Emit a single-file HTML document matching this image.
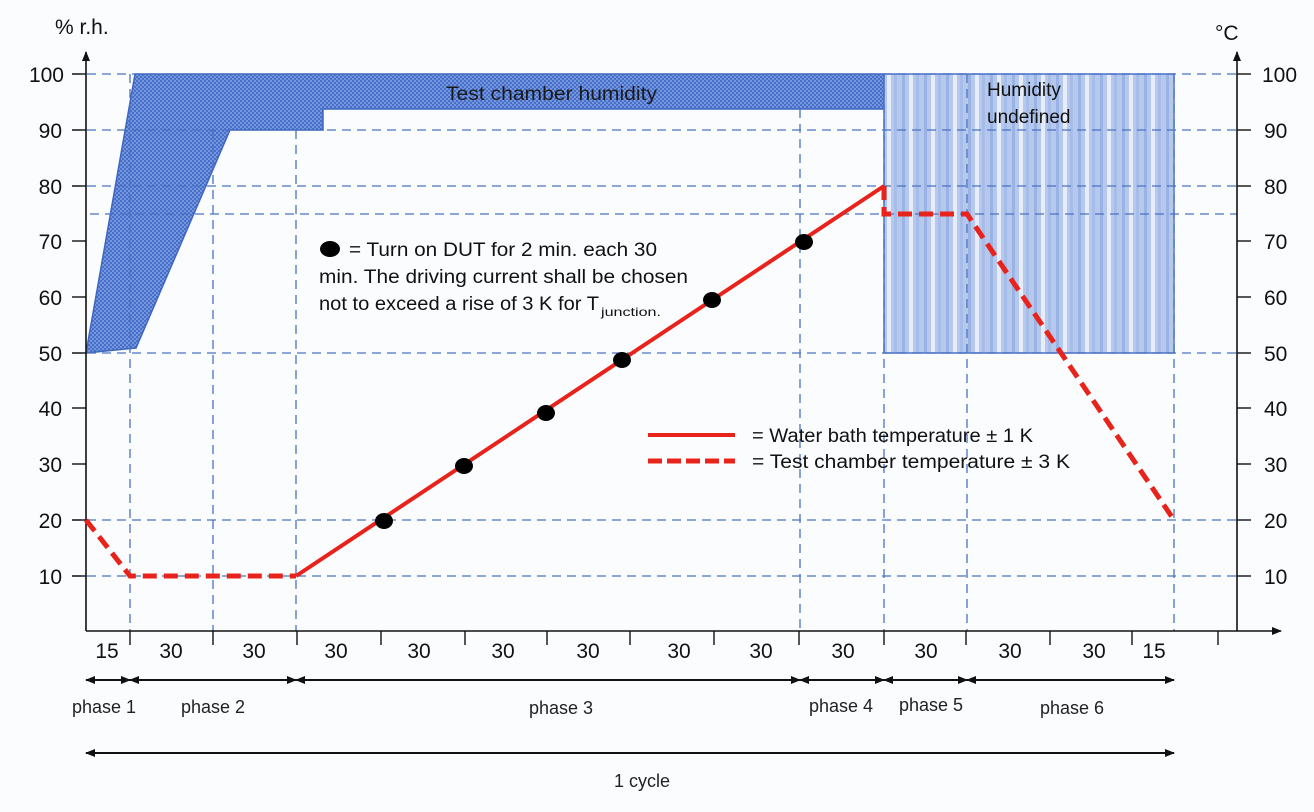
<!DOCTYPE html>
<html><head><meta charset="utf-8"><style>
html,body{margin:0;padding:0;background:#fbfcfe;}
svg{display:block;font-family:"Liberation Sans","DejaVu Sans",sans-serif;}
</style></head><body>
<svg width="1314" height="812" viewBox="0 0 1314 812" xmlns="http://www.w3.org/2000/svg">
<defs>
<pattern id="hatch" width="4" height="4" patternUnits="userSpaceOnUse">
<rect width="4" height="4" fill="#7596dc"/>
<rect width="2" height="2" fill="#456fc8"/>
<rect x="2" y="2" width="2" height="2" fill="#456fc8"/>
</pattern>
<pattern id="stripes" width="22" height="10" patternUnits="userSpaceOnUse">
<rect width="22" height="10" fill="#b6c9ec"/>
<rect x="0" width="3" height="10" fill="#98b3e4"/>
<rect x="7" width="4" height="10" fill="#e6edf9"/>
<rect x="14" width="3" height="10" fill="#a5bde8"/>
</pattern>
<marker id="ah" markerWidth="10" markerHeight="10" refX="9" refY="5" orient="auto" markerUnits="userSpaceOnUse"><path d="M0,1 L10,5 L0,9 z" fill="#111"/></marker>
<marker id="at" markerWidth="10" markerHeight="10" refX="1" refY="5" orient="auto" markerUnits="userSpaceOnUse"><path d="M10,1 L0,5 L10,9 z" fill="#111"/></marker>
</defs>
<rect width="1314" height="812" fill="#fbfcfe"/>

<polygon points="86,353 135,74 884,74 884,109 323,109 323,130 230,130 136,348 86,353" fill="url(#hatch)" stroke="#3f66bf" stroke-width="1.5"/>
<rect x="884" y="74" width="290" height="279" fill="url(#stripes)" stroke="#4a72c8" stroke-width="1.5"/>

<g stroke="#4a72c2" stroke-width="1.3" stroke-dasharray="9,6" fill="none">
<line x1="72" y1="74" x2="1237" y2="74"/>
<line x1="72" y1="130" x2="1237" y2="130"/>
<line x1="72" y1="186" x2="1237" y2="186"/>
<line x1="90" y1="214" x2="1237" y2="214"/>
<line x1="72" y1="353" x2="1237" y2="353"/>
<line x1="72" y1="520" x2="1237" y2="520"/>
<line x1="72" y1="576" x2="1237" y2="576"/>
<line x1="130" y1="74" x2="130" y2="631"/>
<line x1="213" y1="130" x2="213" y2="631"/>
<line x1="296" y1="130" x2="296" y2="631"/>
<line x1="800" y1="109" x2="800" y2="631"/>
<line x1="884" y1="74" x2="884" y2="631"/>
<line x1="967" y1="74" x2="967" y2="631"/>
<line x1="1174" y1="74" x2="1174" y2="631"/>
</g>

<g stroke="#111" stroke-width="1.6" fill="none">
<line x1="86" y1="631" x2="86" y2="52" marker-end="url(#ah)"/>
<line x1="1237" y1="631" x2="1237" y2="52" marker-end="url(#ah)"/>
<line x1="86" y1="631" x2="1281" y2="631" marker-end="url(#ah)"/>
</g>
<g stroke="#111" stroke-width="1.4">
<line x1="72" y1="74" x2="86" y2="74"/><line x1="72" y1="130" x2="86" y2="130"/><line x1="72" y1="186" x2="86" y2="186"/><line x1="72" y1="241" x2="86" y2="241"/><line x1="72" y1="297" x2="86" y2="297"/><line x1="72" y1="353" x2="86" y2="353"/><line x1="72" y1="408" x2="86" y2="408"/><line x1="72" y1="464" x2="86" y2="464"/><line x1="72" y1="520" x2="86" y2="520"/><line x1="72" y1="576" x2="86" y2="576"/>
<line x1="1237" y1="74" x2="1251" y2="74"/><line x1="1237" y1="130" x2="1251" y2="130"/><line x1="1237" y1="186" x2="1251" y2="186"/><line x1="1237" y1="241" x2="1251" y2="241"/><line x1="1237" y1="297" x2="1251" y2="297"/><line x1="1237" y1="353" x2="1251" y2="353"/><line x1="1237" y1="408" x2="1251" y2="408"/><line x1="1237" y1="464" x2="1251" y2="464"/><line x1="1237" y1="520" x2="1251" y2="520"/><line x1="1237" y1="576" x2="1251" y2="576"/>
<line x1="130" y1="631" x2="130" y2="645"/><line x1="213" y1="631" x2="213" y2="645"/><line x1="297" y1="631" x2="297" y2="645"/><line x1="381" y1="631" x2="381" y2="645"/><line x1="465" y1="631" x2="465" y2="645"/><line x1="547" y1="631" x2="547" y2="645"/><line x1="630" y1="631" x2="630" y2="645"/><line x1="714" y1="631" x2="714" y2="645"/><line x1="799" y1="631" x2="799" y2="645"/><line x1="884" y1="631" x2="884" y2="645"/><line x1="966" y1="631" x2="966" y2="645"/><line x1="1050" y1="631" x2="1050" y2="645"/><line x1="1132" y1="631" x2="1132" y2="645"/><line x1="1218" y1="631" x2="1218" y2="645"/>
</g>

<g font-size="21" fill="#111" text-anchor="end">
<text x="64" y="82">100</text><text x="62" y="138">90</text><text x="62" y="194">80</text><text x="62" y="249">70</text><text x="62" y="305">60</text><text x="62" y="361">50</text><text x="62" y="416">40</text><text x="62" y="472">30</text><text x="62" y="528">20</text><text x="62" y="584">10</text>
</g>
<g font-size="21" fill="#111" text-anchor="start">
<text x="1262" y="82">100</text><text x="1264" y="138">90</text><text x="1264" y="194">80</text><text x="1264" y="249">70</text><text x="1264" y="305">60</text><text x="1264" y="361">50</text><text x="1264" y="416">40</text><text x="1264" y="472">30</text><text x="1264" y="528">20</text><text x="1264" y="584">10</text>
</g>
<text x="55" y="34" font-size="21" fill="#111">% r.h.</text>
<text x="1215" y="40" font-size="21" fill="#111">°C</text>

<g font-size="21" fill="#111" text-anchor="middle">
<text x="107" y="658">15</text><text x="171" y="658">30</text><text x="254" y="658">30</text><text x="336" y="658">30</text><text x="419" y="658">30</text><text x="503" y="658">30</text><text x="588" y="658">30</text><text x="679" y="658">30</text><text x="761" y="658">30</text><text x="843" y="658">30</text><text x="926" y="658">30</text><text x="1010" y="658">30</text><text x="1094" y="658">30</text><text x="1154" y="658">15</text>
</g>

<g stroke="#111" stroke-width="2" fill="none">
<line x1="86" y1="680" x2="130" y2="680" marker-start="url(#at)" marker-end="url(#ah)"/>
<line x1="130" y1="680" x2="296" y2="680" marker-start="url(#at)" marker-end="url(#ah)"/>
<line x1="296" y1="680" x2="800" y2="680" marker-start="url(#at)" marker-end="url(#ah)"/>
<line x1="800" y1="680" x2="884" y2="680" marker-start="url(#at)" marker-end="url(#ah)"/>
<line x1="884" y1="680" x2="967" y2="680" marker-start="url(#at)" marker-end="url(#ah)"/>
<line x1="967" y1="680" x2="1174" y2="680" marker-start="url(#at)" marker-end="url(#ah)"/>
<line x1="86" y1="753" x2="1174" y2="753" marker-start="url(#at)" marker-end="url(#ah)"/>
</g>
<g font-size="18" fill="#222" text-anchor="middle">
<text x="104" y="713">phase 1</text><text x="213" y="713">phase 2</text><text x="561" y="714">phase 3</text><text x="841" y="712">phase 4</text><text x="931" y="711">phase 5</text><text x="1072" y="714">phase 6</text>
<text x="642" y="787">1 cycle</text>
</g>

<g stroke="#e8231c" stroke-width="4" fill="none" stroke-linejoin="miter">
<polyline points="296,576 884,186"/>
<polyline points="86,520 130,576 296,576" stroke-width="5" stroke-dasharray="14,7"/>
<polyline points="884,186 884,214 967,214 1174,520" stroke-width="5" stroke-dasharray="14,7"/>
<line x1="648" y1="435" x2="735" y2="435"/>
<line x1="648" y1="461" x2="735" y2="461" stroke-width="5" stroke-dasharray="14,5"/>
</g>
<g fill="#000">
<ellipse cx="384" cy="521" rx="9" ry="8"/><ellipse cx="464" cy="466" rx="9" ry="8"/><ellipse cx="546" cy="413" rx="9" ry="8"/><ellipse cx="622" cy="360" rx="9" ry="8"/><ellipse cx="712" cy="300" rx="9" ry="8"/><ellipse cx="804" cy="242" rx="9" ry="8"/>
<ellipse cx="330" cy="249" rx="10" ry="8"/>
</g>

<g font-size="19" fill="#111">
<text x="349" y="256" textLength="308" lengthAdjust="spacingAndGlyphs">= Turn on DUT for 2 min. each 30</text>
<text x="319" y="283" textLength="369" lengthAdjust="spacingAndGlyphs">min. The driving current shall be chosen</text>
<text x="319" y="310" textLength="280" lengthAdjust="spacingAndGlyphs">not to exceed a rise of 3 K for T</text>
<text x="601" y="316" font-size="12" textLength="60" lengthAdjust="spacingAndGlyphs">junction.</text>
<text x="752" y="442" textLength="281" lengthAdjust="spacingAndGlyphs">= Water bath temperature ± 1 K</text>
<text x="752" y="468" textLength="318" lengthAdjust="spacingAndGlyphs">= Test chamber temperature ± 3 K</text>
<text x="446" y="100" fill="#1a1a1a" textLength="211" lengthAdjust="spacingAndGlyphs">Test chamber humidity</text>
<text x="987" y="96">Humidity</text>
<text x="987" y="123">undefined</text>
</g>
</svg>
</body></html>
